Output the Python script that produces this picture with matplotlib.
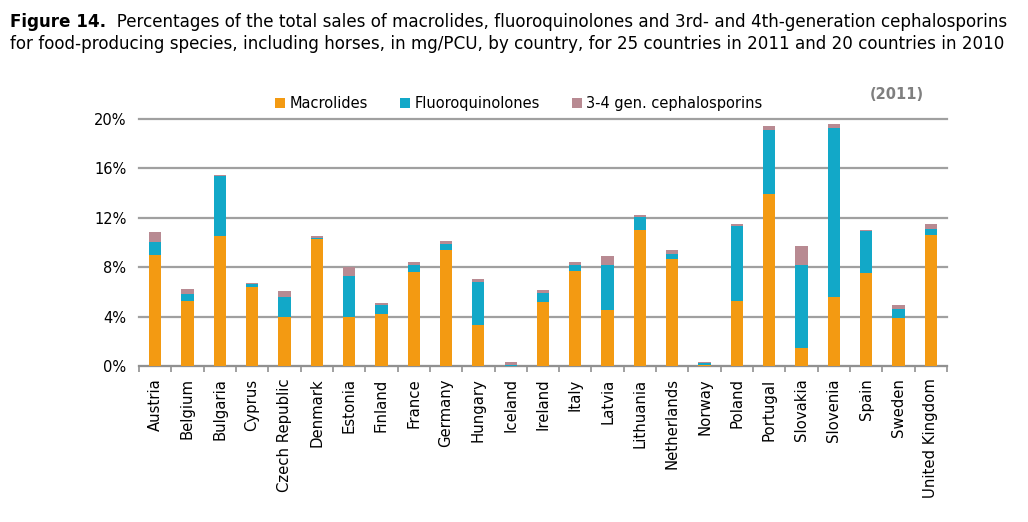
import numpy as np
import matplotlib
matplotlib.use("Agg")
import matplotlib.pyplot as plt
from matplotlib.ticker import FuncFormatter

# --- data (% of total sales, 2011) ---
countries = ["Austria", "Belgium", "Bulgaria", "Cyprus", "Czech Republic", "Denmark",
             "Estonia", "Finland", "France", "Germany", "Hungary", "Iceland", "Ireland",
             "Italy", "Latvia", "Lithuania", "Netherlands", "Norway", "Poland", "Portugal",
             "Slovakia", "Slovenia", "Spain", "Sweden", "United Kingdom"]
macrolides = [9.0, 5.3, 10.5, 6.4, 3.95, 10.25, 3.95, 4.2, 7.65, 9.4, 3.3, 0.02, 5.15,
              7.7, 4.5, 11.0, 8.7, 0.05, 5.3, 13.9, 1.45, 5.55, 7.55, 3.9, 10.6]
fluoroquinolones = [1.07, 0.55, 4.85, 0.2, 1.6, 0.15, 3.3, 0.7, 0.5, 0.45, 3.5, 0.02, 0.75,
                    0.5, 3.7, 1.1, 0.4, 0.2, 6.0, 5.2, 6.75, 13.7, 3.4, 0.75, 0.5]
cephalosporins = [0.8, 0.4, 0.15, 0.15, 0.55, 0.15, 0.75, 0.2, 0.3, 0.3, 0.25, 0.28, 0.25,
                  0.2, 0.7, 0.1, 0.3, 0.1, 0.2, 0.35, 1.55, 0.35, 0.1, 0.25, 0.4]

c_mac = "#F39A12"
c_flu = "#12A8C8"
c_cep = "#B88A92"

plt.rcParams["font.family"] = "DejaVu Sans"

fig = plt.figure(figsize=(10.28, 5.22), dpi=100)
ax = fig.add_axes([0.1352, 0.2989, 0.786, 0.4731])

x = np.arange(len(countries))
m = np.array(macrolides)
f = np.array(fluoroquinolones)
c = np.array(cephalosporins)
w = 0.38
ax.bar(x, m, w, color=c_mac, label="Macrolides", zorder=3)
ax.bar(x, f, w, bottom=m, color=c_flu, label="Fluoroquinolones", zorder=3)
ax.bar(x, c, w, bottom=m + f, color=c_cep, label="3-4 gen. cephalosporins", zorder=3)

ax.set_xlim(-0.5, len(countries) - 0.5)
ax.set_ylim(0, 20)
ax.set_yticks([0, 4, 8, 12, 16, 20])
ax.yaxis.set_major_formatter(FuncFormatter(lambda v, p: f"{v:.0f}%"))
ax.grid(axis="y", color="#A0A0A0", linewidth=1.6, zorder=0)
for gl in ax.get_ygridlines():
    gl.set_clip_on(False)
ax.tick_params(axis="y", length=0, labelsize=10.5, pad=9)

ax.set_xticks(x)
ax.set_xticklabels(countries, rotation=90, fontsize=10.7)
ax.set_xticks(np.arange(-0.5, len(countries), 1), minor=True)
ax.tick_params(axis="x", which="major", length=0, pad=9)
ax.tick_params(axis="x", which="minor", length=4, width=1.2, color="#909090")

for s in ["top", "right", "left"]:
    ax.spines[s].set_visible(False)
ax.spines["bottom"].set_color("#909090")
ax.spines["bottom"].set_linewidth(1.5)

ax.legend(ncol=3, loc="lower center", bbox_to_anchor=(0.47, 1.008), frameon=False,
          fontsize=10.5, handlelength=0.7, handleheight=0.7, handletextpad=0.3,
          columnspacing=2.2, borderaxespad=0)

fig.text(0.872, 0.81, "(2011)", fontsize=10.5, fontweight="bold", color="#7F7F7F", ha="center")

# title, first word bold
t1 = fig.text(0.01, 0.949, "Figure 14.", fontsize=12.1, fontweight="bold")
ax.annotate("  Percentages of the total sales of macrolides, fluoroquinolones and "
            "3rd- and 4th-generation cephalosporins",
            xy=(1, 0), xycoords=t1, va="bottom", ha="left", fontsize=12.1,
            annotation_clip=False)
fig.text(0.01, 0.907, "for food-producing species, including horses, in mg/PCU, by country, "
         "for 25 countries in 2011 and 20 countries in 2010", fontsize=12.1)

fig.savefig("out.png", dpi=100)
